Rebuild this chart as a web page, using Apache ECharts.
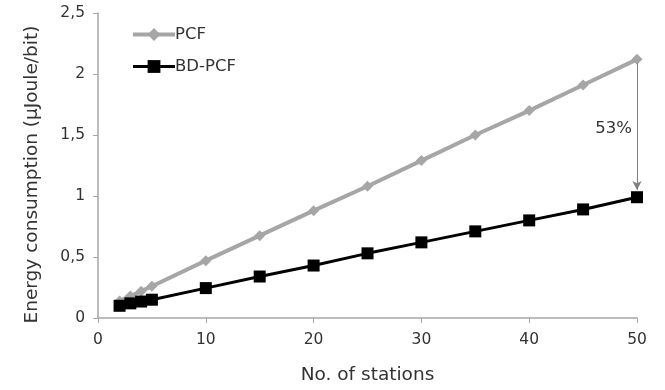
<!DOCTYPE html>
<html>
<head>
<meta charset="utf-8">
<script src="https://cdn.jsdelivr.net/npm/echarts@6/dist/echarts.min.js"></script>
<style>
  html, body { margin: 0; padding: 0; background: #fff; }
  #chart { width: 665px; height: 390px; }
</style>
</head>
<body>
<div id="chart"></div>
<script>
// number of stations
const stations = [2, 3, 4, 5, 10, 15, 20, 25, 30, 35, 40, 45, 50]
// energy consumption, µJoule/bit
const pcf = [0.14, 0.18, 0.22, 0.26, 0.47, 0.675, 0.88, 1.08, 1.29, 1.50, 1.70, 1.91, 2.12]
const bdPcf = [0.10, 0.12, 0.135, 0.15, 0.245, 0.34, 0.43, 0.53, 0.62, 0.71, 0.80, 0.89, 0.99]
// annotation between the two last points
const gapLabel = '53%'

const font = 'DejaVu Sans'
const axisGray = '#a6a6a6'
const textColor = '#333'

const pairs = (ys) => stations.map((x, i) => [x, ys[i]])
const fmt = (v) => String(v).replace('.', ',')
const last = stations.length - 1

const chart = echarts.init(document.getElementById('chart'))
chart.setOption({
  animation: false,
  textStyle: { fontFamily: font },
  grid: { left: 98, right: 28, top: 13, bottom: 70 },
  legend: {
    left: 126,
    top: 21,
    orient: 'vertical',
    itemGap: 15,
    itemWidth: 42,
    itemHeight: 16,
    textStyle: { fontFamily: font, fontSize: 16.5, color: textColor, padding: [0, 0, 0, -5] },
    data: [
      { name: 'PCF', lineStyle: { width: 4 } },
      { name: 'BD-PCF', lineStyle: { width: 3 } }
    ]
  },
  xAxis: {
    type: 'value',
    min: 0,
    max: 50,
    interval: 10,
    name: 'No. of stations',
    nameLocation: 'middle',
    nameGap: 48,
    nameTextStyle: { fontSize: 18.5, color: textColor },
    axisLine: { lineStyle: { color: axisGray, width: 1.5 } },
    axisTick: { show: true, length: 5, lineStyle: { color: axisGray } },
    axisLabel: { fontSize: 15.5, color: textColor, margin: 14 },
    splitLine: { show: false }
  },
  yAxis: {
    type: 'value',
    min: 0,
    max: 2.5,
    interval: 0.5,
    name: 'Energy consumption (µJoule/bit)',
    nameLocation: 'middle',
    nameGap: 56,
    nameTextStyle: { fontSize: 18.5, color: textColor, padding: [0, 18, 0, 0] },
    axisLine: { show: true, lineStyle: { color: axisGray, width: 1.5 } },
    axisTick: { show: true, length: 5, lineStyle: { color: axisGray } },
    axisLabel: { fontSize: 15.5, color: textColor, margin: 13, formatter: fmt },
    splitLine: { show: false }
  },
  series: [
    {
      name: 'PCF',
      type: 'line',
      data: pairs(pcf),
      symbol: 'diamond',
      symbolSize: 11,
      lineStyle: { color: '#a6a6a6', width: 4 },
      itemStyle: { color: '#a6a6a6' },
      z: 2,
      markLine: {
        silent: true,
        symbol: ['none', 'arrow'],
        symbolSize: [7, 9],
        lineStyle: { color: '#808080', width: 1, type: 'solid' },
        label: { show: false },
        data: [[
          { coord: [stations[last], pcf[last] - 0.03] },
          { coord: [stations[last], bdPcf[last] + 0.06] }
        ]]
      },
      markPoint: {
        silent: true,
        symbol: 'circle',
        symbolSize: 0,
        label: {
          show: true,
          position: 'left',
          distance: 5,
          formatter: gapLabel,
          fontSize: 16.5,
          color: textColor,
          fontFamily: font
        },
        data: [{ coord: [stations[last], (pcf[last] + bdPcf[last]) / 2] }]
      }
    },
    {
      name: 'BD-PCF',
      type: 'line',
      data: pairs(bdPcf),
      symbol: 'rect',
      symbolSize: 12,
      lineStyle: { color: '#000', width: 3 },
      itemStyle: { color: '#000' },
      z: 3
    }
  ]
})
</script>
</body>
</html>
